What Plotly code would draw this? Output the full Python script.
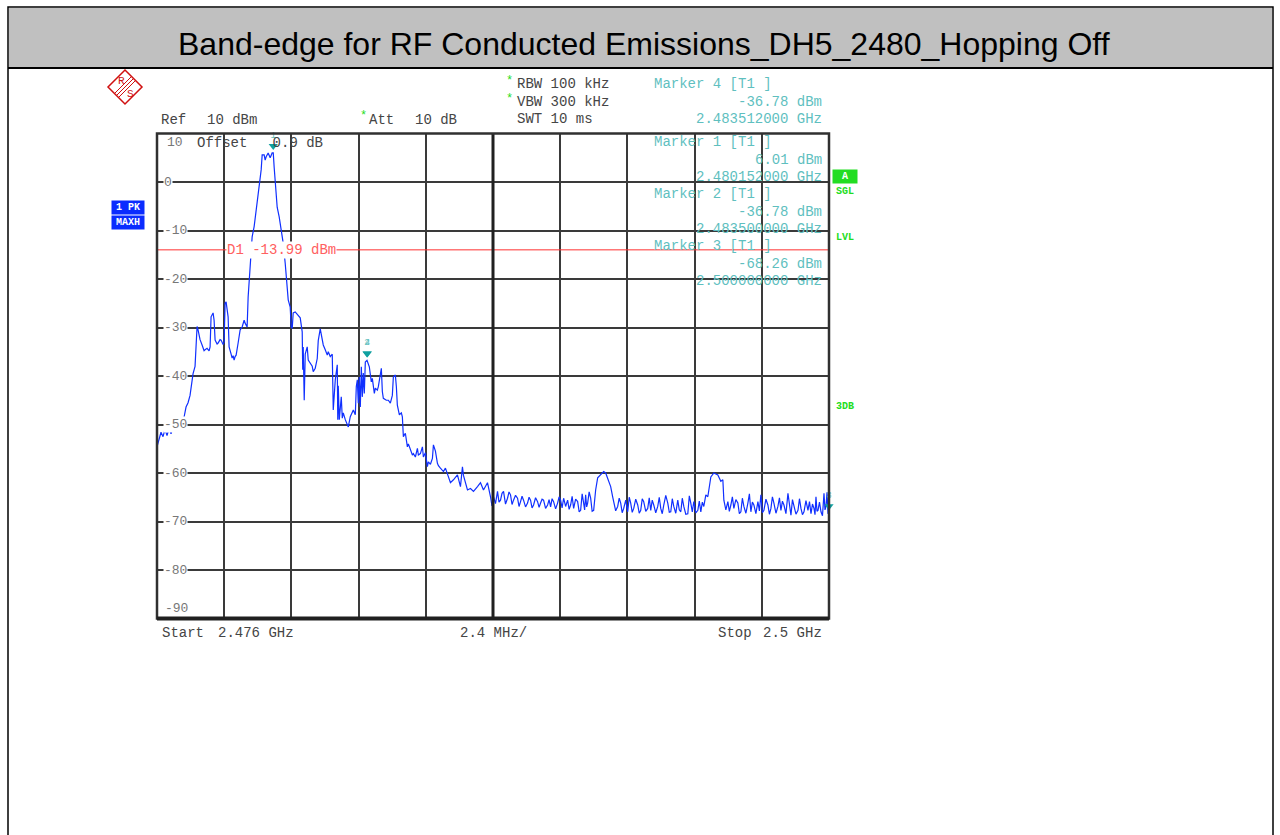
import plotly.graph_objects as go

# trace (MHz, dBm)
freq_mhz = [
    2476.000, 2476.072, 2476.143, 2476.215, 2476.286, 2476.358, 2476.429, 2476.501, 2476.572, 2476.644,
    2476.715, 2476.787, 2476.858, 2476.930, 2476.966, 2477.037, 2477.109, 2477.180, 2477.252, 2477.288,
    2477.359, 2477.395, 2477.431, 2477.466, 2477.538, 2477.610, 2477.681, 2477.717, 2477.788, 2477.860,
    2477.896, 2477.931, 2478.003, 2478.039, 2478.075, 2478.146, 2478.182, 2478.253, 2478.289, 2478.361,
    2478.396, 2478.432, 2478.468, 2478.540, 2478.575, 2478.647, 2478.683, 2478.718, 2478.754, 2478.790,
    2478.826, 2478.897, 2478.969, 2479.040, 2479.112, 2479.148, 2479.219, 2479.255, 2479.326, 2479.398,
    2479.469, 2479.541, 2479.613, 2479.684, 2479.720, 2479.756, 2479.827, 2479.863, 2479.899, 2479.970,
    2480.042, 2480.113, 2480.152, 2480.185, 2480.221, 2480.292, 2480.364, 2480.435, 2480.507, 2480.578,
    2480.650, 2480.686, 2480.757, 2480.793, 2480.829, 2480.864, 2480.936, 2481.008, 2481.079, 2481.115,
    2481.186, 2481.204, 2481.222, 2481.258, 2481.294, 2481.365, 2481.401, 2481.473, 2481.544, 2481.580,
    2481.651, 2481.723, 2481.759, 2481.830, 2481.902, 2481.938, 2482.009, 2482.081, 2482.116, 2482.188,
    2482.259, 2482.295, 2482.367, 2482.438, 2482.456, 2482.474, 2482.510, 2482.581, 2482.617, 2482.653,
    2482.724, 2482.796, 2482.832, 2482.903, 2482.975, 2483.011, 2483.082, 2483.118, 2483.154, 2483.189,
    2483.225, 2483.261, 2483.297, 2483.332, 2483.368, 2483.404, 2483.440, 2483.500, 2483.583, 2483.654,
    2483.690, 2483.762, 2483.797, 2483.869, 2483.905, 2483.976, 2484.012, 2484.048, 2484.084, 2484.191,
    2484.262, 2484.334, 2484.405, 2484.441, 2484.513, 2484.549, 2484.584, 2484.656, 2484.727, 2484.763,
    2484.799, 2484.870, 2484.942, 2484.978, 2485.049, 2485.121, 2485.157, 2485.228, 2485.300, 2485.335,
    2485.407, 2485.479, 2485.514, 2485.586, 2485.657, 2485.693, 2485.765, 2485.836, 2485.872, 2485.944,
    2486.015, 2486.051, 2486.122, 2486.230, 2486.301, 2486.373, 2486.480, 2486.587, 2486.730, 2486.838,
    2486.909, 2486.945, 2487.088, 2487.195, 2487.303, 2487.446, 2487.553, 2487.660, 2487.803,
    # noise floor up to first spur
    2487.911, 2487.964, 2488.018, 2488.089, 2488.161, 2488.215, 2488.268, 2488.322, 2488.376, 2488.447,
    2488.519, 2488.572, 2488.626, 2488.680, 2488.733, 2488.805, 2488.876, 2488.930, 2488.984, 2489.037,
    2489.091, 2489.162, 2489.234, 2489.288, 2489.341, 2489.395, 2489.449, 2489.520, 2489.592, 2489.646,
    2489.699, 2489.753, 2489.806, 2489.878, 2489.950, 2490.003, 2490.057, 2490.110, 2490.164, 2490.236,
    2490.307, 2490.361, 2490.415, 2490.468, 2490.522, 2490.594, 2490.665, 2490.719, 2490.772, 2490.826,
    2490.880, 2490.951, 2491.023, 2491.077, 2491.130, 2491.184, 2491.237, 2491.273, 2491.309, 2491.345,
    2491.380, 2491.434, 2491.488, 2491.541, 2491.595,
    2491.666, 2491.738, 2491.845, 2491.953, 2492.024, 2492.096, 2492.203, 2492.274,
    2492.310, 2492.381, 2492.453, 2492.507, 2492.561, 2492.614, 2492.668, 2492.740, 2492.811, 2492.865,
    2492.918, 2492.972, 2493.026, 2493.097, 2493.169, 2493.222, 2493.276, 2493.330, 2493.383, 2493.455,
    2493.526, 2493.580, 2493.634, 2493.687, 2493.741, 2493.812, 2493.884, 2493.938, 2493.991, 2494.045,
    2494.099, 2494.170, 2494.242, 2494.296, 2494.349, 2494.403, 2494.456, 2494.528, 2494.599, 2494.653,
    2494.707, 2494.760, 2494.814, 2494.886, 2494.957, 2495.011, 2495.064, 2495.118, 2495.172, 2495.243,
    2495.315, 2495.368, 2495.422, 2495.476, 2495.529,
    2495.601, 2495.672, 2495.780, 2495.887, 2496.030, 2496.137, 2496.209,
    2496.245, 2496.316, 2496.388, 2496.441, 2496.495, 2496.549, 2496.602, 2496.674, 2496.745, 2496.799,
    2496.853, 2496.906, 2496.960, 2497.032, 2497.103, 2497.157, 2497.210, 2497.264, 2497.318, 2497.389,
    2497.461, 2497.514, 2497.568, 2497.622, 2497.675, 2497.747, 2497.818, 2497.872, 2497.926, 2497.979,
    2498.033, 2498.105, 2498.176, 2498.230, 2498.283, 2498.337, 2498.391, 2498.462, 2498.534, 2498.588,
    2498.641, 2498.695, 2498.748, 2498.820, 2498.892, 2498.945, 2498.999, 2499.052, 2499.106, 2499.177,
    2499.249, 2499.303, 2499.357, 2499.410, 2499.464, 2499.500, 2499.535, 2499.571, 2499.607, 2499.660,
    2499.714, 2499.767, 2499.821, 2499.857, 2499.893, 2499.929, 2499.965, 2500.000,
]
level_dbm = [
    -54.6, -53.0, -51.6, -52.5, -51.0, -52.3, -50.8, -51.9, -50.6, -51.5,
    -50.4, -51.2, -50.5, -50.3, -48.5, -46.4, -45.5, -44.0, -41.0, -39.5,
    -38.0, -33.0, -29.8, -30.5, -32.5, -33.6, -34.8, -34.6, -34.3, -34.8,
    -34.0, -27.8, -27.0, -28.5, -32.6, -33.4, -33.2, -32.5, -32.6, -33.5,
    -33.0, -25.0, -24.7, -27.8, -34.0, -35.5, -36.3, -35.8, -36.7, -36.0,
    -35.7, -33.2, -30.5, -29.9, -28.5, -29.1, -29.9, -23.7, -18.1, -11.3,
    -9.2, -5.8, -2.7, 1.9, 2.5, 5.6, 5.6, 4.5, 5.2, 6.0,
    5.0, 6.0, 6.01, 3.0, -0.6, -5.2, -7.2, -9.9, -12.6, -16.7,
    -20.8, -24.3, -25.8, -29.9, -30.2, -27.0, -26.8, -27.2, -27.8, -28.0,
    -30.9, -38.7, -34.0, -45.0, -35.5, -34.0, -36.7, -37.4, -38.0, -39.1,
    -38.4, -36.4, -32.7, -30.3, -33.0, -33.6, -34.6, -35.7, -35.0, -36.0,
    -35.5, -47.0, -40.8, -37.7, -49.0, -42.0, -49.0, -44.3, -48.7, -47.6,
    -49.0, -50.1, -50.5, -48.4, -47.6, -47.0, -48.0, -42.2, -40.8, -45.6,
    -40.2, -46.4, -38.1, -44.3, -39.4, -43.6, -37.1, -36.78, -38.1, -41.2,
    -40.5, -43.6, -42.5, -42.9, -42.2, -39.1, -38.4, -43.2, -44.6, -45.0,
    -45.0, -45.6, -44.0, -40.2, -39.8, -42.2, -46.0, -48.0, -47.6, -48.4,
    -52.5, -51.8, -54.6, -54.0, -55.3, -56.3, -56.0, -56.7, -54.9, -56.3,
    -56.0, -54.6, -56.7, -55.8, -58.7, -57.7, -58.2, -57.0, -54.2, -55.5,
    -58.0, -58.5, -59.0, -59.7, -59.0, -60.4, -62.0, -61.4, -60.4, -62.8,
    -58.7, -60.5, -63.5, -63.2, -63.8, -62.8, -62.0, -63.5, -62.0,
    # noise floor up to first spur
    -64.9, -66.8, -64.9, -66.3, -63.8, -66.0, -65.6, -64.2, -63.8, -66.4,
    -65.2, -63.9, -64.5, -66.5, -65.6, -64.6, -65.2, -66.9, -65.9, -64.8,
    -65.6, -67.0, -66.2, -65.0, -65.6, -67.2, -66.6, -65.1, -65.9, -67.1,
    -66.2, -65.4, -65.6, -67.3, -66.6, -65.5, -67.0, -65.3, -65.9, -67.4,
    -66.2, -64.9, -65.6, -67.2, -65.2, -66.9, -65.6, -67.5, -66.6, -64.8,
    -67.3, -65.4, -65.9, -68.0, -67.7, -64.3, -66.2, -67.6, -64.5, -67.0,
    -66.2, -63.9, -65.2, -67.9, -67.7,
    -63.5, -61.0, -60.4, -59.7, -60.0, -61.0, -62.8, -64.9,
    -65.9, -67.8, -66.9, -65.2, -66.2, -68.2, -67.3, -65.6, -68.0, -65.0,
    -66.2, -68.1, -67.3, -65.4, -66.6, -68.3, -67.7, -65.3, -65.9, -67.9,
    -67.3, -65.1, -67.7, -65.6, -66.6, -68.2, -66.9, -65.0, -67.3, -68.4,
    -66.6, -64.6, -66.2, -68.1, -68.0, -65.3, -66.9, -68.3, -65.6, -67.6,
    -68.0, -65.2, -66.9, -68.5, -68.4, -64.7, -66.2, -68.0, -65.9, -68.2,
    -67.7, -65.8, -68.0, -66.0, -66.9,
    -64.5, -64.9, -60.8, -60.0, -60.4, -61.7, -61.4,
    -65.6, -67.6, -65.9, -67.9, -66.6, -64.9, -67.3, -65.5, -66.2, -68.4,
    -68.0, -65.2, -66.9, -68.3, -66.2, -64.3, -68.0, -66.0, -66.6, -68.4,
    -65.9, -67.8, -64.5, -68.2, -67.7, -65.4, -66.6, -68.5, -67.3, -64.9,
    -66.2, -68.3, -66.9, -65.1, -67.7, -65.8, -66.6, -68.4, -64.2, -67.0,
    -68.7, -65.5, -66.9, -68.5, -67.7, -65.3, -67.3, -68.6, -68.0, -65.7,
    -67.7, -65.9, -68.4, -66.4, -67.3, -68.6, -64.9, -67.9, -67.7, -66.0,
    -68.0, -68.8, -64.2, -67.6, -66.9, -64.0, -68.4, -68.26,
]

# marker table
marker_ids = ["4", "1", "2", "3"]
marker_freq_ghz = [2.483512, 2.480152, 2.4835, 2.5]
marker_level = [-36.78, 6.01, -36.78, -68.26]

display_line = -13.99
y_ticks = [0, -10, -20, -30, -40, -50, -60, -70, -80]

W, H = 1280, 835
def px(x):
    return x / W
def py(y):
    return 1 - y / H

TEAL = "#5fbfbf"
GRAY = "#454545"
GREEN = "#22dd22"
MONO = "Liberation Mono, monospace"

fig = go.Figure()

fig.add_trace(go.Scatter(
    x=freq_mhz, y=level_dbm, mode="lines",
    line=dict(color="#1030ff", width=1.2), hoverinfo="skip",
))

# marker triangles
fig.add_trace(go.Scatter(
    x=[f * 1000 for f in marker_freq_ghz],
    y=[l + 1.4 for l in marker_level],
    mode="markers+text",
    marker=dict(symbol="triangle-down", size=8, color="#10a0a0"),
    text=marker_ids, textposition="top center",
    textfont=dict(family=MONO, size=9, color=TEAL),
    cliponaxis=False, hoverinfo="skip",
))

shapes = []
ann = []

# page border + title bar
shapes.append(dict(type="rect", xref="paper", yref="paper", x0=px(8), x1=px(1273), y0=py(840), y1=py(7),
                   line=dict(color="black", width=1.5), fillcolor="rgba(0,0,0,0)", layer="below"))
shapes.append(dict(type="rect", xref="paper", yref="paper", x0=px(9), x1=px(1272), y0=py(68), y1=py(8),
                   line=dict(width=0), fillcolor="#c0c0c0", layer="below"))
shapes.append(dict(type="line", xref="paper", yref="paper", x0=px(8), x1=px(1273), y0=py(68), y1=py(68),
                   line=dict(color="black", width=2)))
ann.append(dict(text="Band-edge for RF Conducted Emissions_DH5_2480_Hopping Off", x=px(644), y=py(44),
                xref="paper", yref="paper", showarrow=False, yanchor="middle",
                font=dict(family="Liberation Sans, Arial", size=32, color="black")))

# display line D1
shapes.append(dict(type="line", xref="x domain", yref="y", x0=0, x1=1, y0=display_line, y1=display_line,
                   line=dict(color="#ff3030", width=1)))
ann.append(dict(text=f"D1 {display_line:.2f} dBm", x=px(226), y=display_line, xref="paper", yref="y",
                xanchor="left", yanchor="middle", showarrow=False, bgcolor="white", borderpad=0,
                font=dict(family=MONO, size=14, color="#ff6060")))

# heavier centre line and frame
shapes.append(dict(type="line", xref="x", yref="y domain", x0=2488, x1=2488, y0=0, y1=1,
                   line=dict(color="#202020", width=3)))
shapes.append(dict(type="rect", xref="x domain", yref="y domain", x0=0, x1=1, y0=0, y1=1,
                   line=dict(color="#303030", width=2.5)))
shapes.append(dict(type="line", xref="x domain", yref="y domain", x0=0, x1=1, y0=0, y1=0,
                   line=dict(color="#202020", width=4)))

# y tick labels inside the plot
for v in y_ticks:
    ann.append(dict(text=str(v), x=px(163), y=v, xref="paper", yref="y", xanchor="left", yanchor="middle",
                    showarrow=False, bgcolor="white", borderpad=0,
                    font=dict(family=MONO, size=13, color="#777777")))


def txt(s, x, y, color=GRAY, anchor="left", size=14, **kw):
    ann.append(dict(text=s, x=px(x), y=py(y), xref="paper", yref="paper", xanchor=anchor, yanchor="middle",
                    showarrow=False, font=dict(family=MONO, size=size, color=color), **kw))


txt("10", 165, 143, color="#777777", size=13)
txt("-90", 163, 608, color="#777777", size=13)
txt("Offset   0.9 dB", 195, 143)

# header texts
txt("Ref", 159, 120)
txt("10 dBm", 205, 120)
txt("*", 358, 116, color=GREEN, size=12)
txt("Att", 367, 120)
txt("10 dB", 413, 120)
txt("*", 504, 81, color=GREEN, size=12)
txt("RBW 100 kHz", 515, 84)
txt("*", 504, 99, color=GREEN, size=12)
txt("VBW 300 kHz", 515, 102)
txt("SWT 10 ms", 515, 119)

# marker readouts
block_y = [84, 142, 194, 246]
for mid, f, l, yy in zip(marker_ids, marker_freq_ghz, marker_level, block_y):
    txt(f"Marker {mid} [T1 ]", 652, yy, color=TEAL)
    txt(f"{l:.2f} dBm", 824, yy + 18, color=TEAL, anchor="right")
    txt(f"{f:.9f} GHz", 824, yy + 35, color=TEAL, anchor="right")

# bottom labels
txt("Start", 160, 633)
txt("2.476 GHz", 216, 633)
txt("2.4 MHz/", 458, 633)
txt("Stop", 716, 633)
txt("2.5 GHz", 824, 633, anchor="right")

# trace status boxes
for s, yy in [("1 PK", 207), ("MAXH", 223)]:
    ann.append(dict(text=f"<b>{s}</b>", x=px(111), y=py(yy), xref="paper", yref="paper", xanchor="left",
                    yanchor="middle", showarrow=False, bgcolor="#0a2cff", width=30, height=11, borderpad=1,
                    font=dict(family=MONO, size=10, color="white")))
ann.append(dict(text="<b>A</b>", x=px(832), y=py(176), xref="paper", yref="paper", xanchor="left",
                yanchor="middle", showarrow=False, bgcolor=GREEN, width=22, height=11, borderpad=1,
                font=dict(family=MONO, size=10, color="white")))
for s, yy in [("SGL", 191), ("LVL", 238), ("3DB", 406)]:
    txt(f"<b>{s}</b>", 834, yy, color=GREEN, size=10)

# R&S logo
cx, cy, r = 125, 87, 17
shapes.append(dict(type="path", xref="paper", yref="paper",
                   path=f"M {px(cx)} {py(cy - r)} L {px(cx + r)} {py(cy)} L {px(cx)} {py(cy + r)} L {px(cx - r)} {py(cy)} Z",
                   line=dict(color="#d01010", width=1.5)))
for d in (-2, 0, 2):
    shapes.append(dict(type="line", xref="paper", yref="paper",
                       x0=px(cx - 8 + d), y0=py(cy + 8 + d), x1=px(cx + 8 + d), y1=py(cy - 8 + d),
                       line=dict(color="#d01010", width=1)))
txt("R", 121, 81, color="#d01010", anchor="center", size=11)
txt("S", 130, 94, color="#d01010", anchor="center", size=11)

fig.update_layout(
    width=W, height=H, margin=dict(l=0, r=0, t=0, b=0),
    paper_bgcolor="white", plot_bgcolor="white", showlegend=False,
    shapes=shapes, annotations=ann,
    xaxis=dict(domain=[px(157), px(829)], range=[2476, 2500], tick0=2476, dtick=2.4,
               showgrid=True, gridcolor="#3a3a3a", gridwidth=1.5, showticklabels=False,
               zeroline=False, ticks=""),
    yaxis=dict(domain=[py(618.5), py(133.5)], range=[-90, 10], tick0=-90, dtick=10,
               showgrid=True, gridcolor="#3a3a3a", gridwidth=1.5, showticklabels=False,
               zeroline=False, ticks=""),
)

fig.write_html("out.html", config={"displayModeBar": False},
               post_script="document.body.style.margin='0px';")
